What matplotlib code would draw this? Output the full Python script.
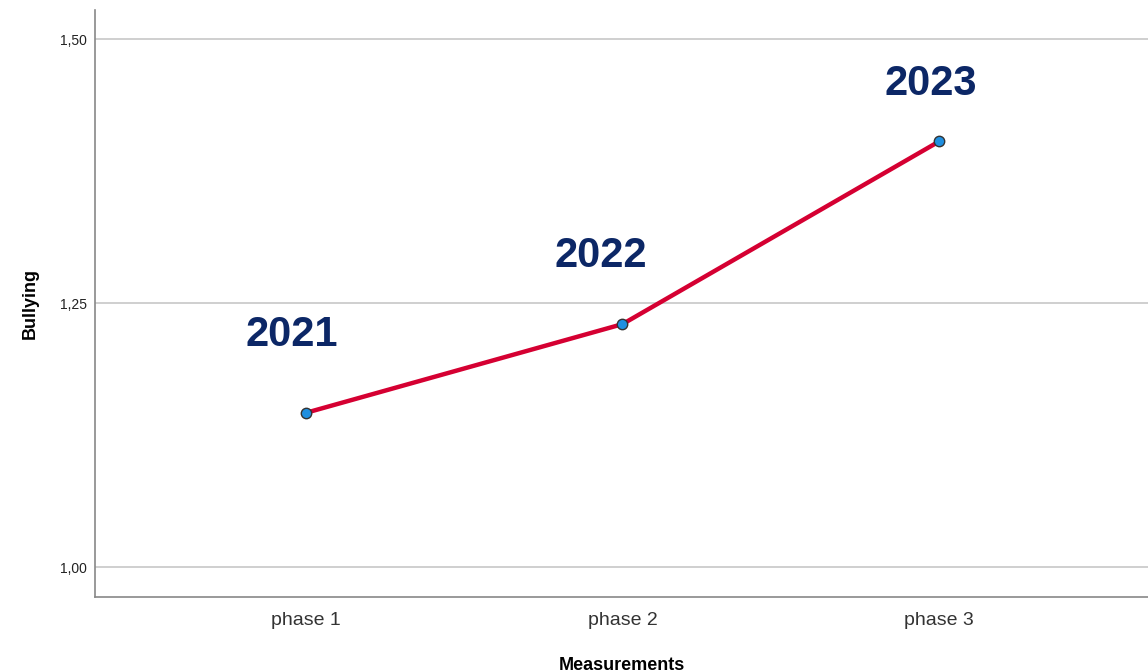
import matplotlib.pyplot as plt
import matplotlib.ticker as mticker

plt.rcParams['font.family'] = ['Liberation Sans', 'DejaVu Sans']

# data
phases = ['phase 1', 'phase 2', 'phase 3']
bullying = [1.146, 1.230, 1.403]
years = ['2021', '2022', '2023']
year_y = [1.220, 1.295, 1.457]
year_dx = [-0.045, -0.07, -0.025]

fig = plt.figure(figsize=(11.48, 6.72), dpi=100)
ax = fig.add_axes([95 / 1148, 75 / 672, 1 - 95 / 1148, 587 / 672])

x = [1, 2, 3]
ax.plot(x, bullying, color='#d50032', lw=3.2, zorder=3,
        marker='o', markersize=7.5, markerfacecolor='#1f8fe0',
        markeredgecolor='#333333', markeredgewidth=1.0)

for xi, dx, yy, lbl in zip(x, year_dx, year_y, years):
    ax.text(xi + dx, yy, lbl, ha='center', va='center', fontsize=30,
            fontweight='bold', color='#0c2766')

ax.set_xlim(0.334, 3.66)
ax.set_ylim(0.9716, 1.5275)
ax.set_xticks(x)
ax.set_xticklabels(phases, fontsize=14, color='#333333')
ax.set_yticks([1.0, 1.25, 1.5])
ax.yaxis.set_major_formatter(mticker.FuncFormatter(lambda v, p: f'{v:.2f}'.replace('.', ',')))
ax.tick_params(axis='y', labelsize=10, colors='#222222', length=0, pad=6)
ax.tick_params(axis='x', length=0, pad=11)
ax.grid(axis='y', color='#cccccc', lw=1.3)
ax.set_axisbelow(True)

for s in ['top', 'right']:
    ax.spines[s].set_visible(False)
for s in ['left', 'bottom']:
    ax.spines[s].set_color('#888888')
    ax.spines[s].set_linewidth(1.2)

ax.set_xlabel('Measurements', fontsize=13, fontweight='bold', labelpad=20)
ax.set_ylabel('Bullying', fontsize=13, fontweight='bold', labelpad=15)

fig.savefig('out.png', dpi=100)
